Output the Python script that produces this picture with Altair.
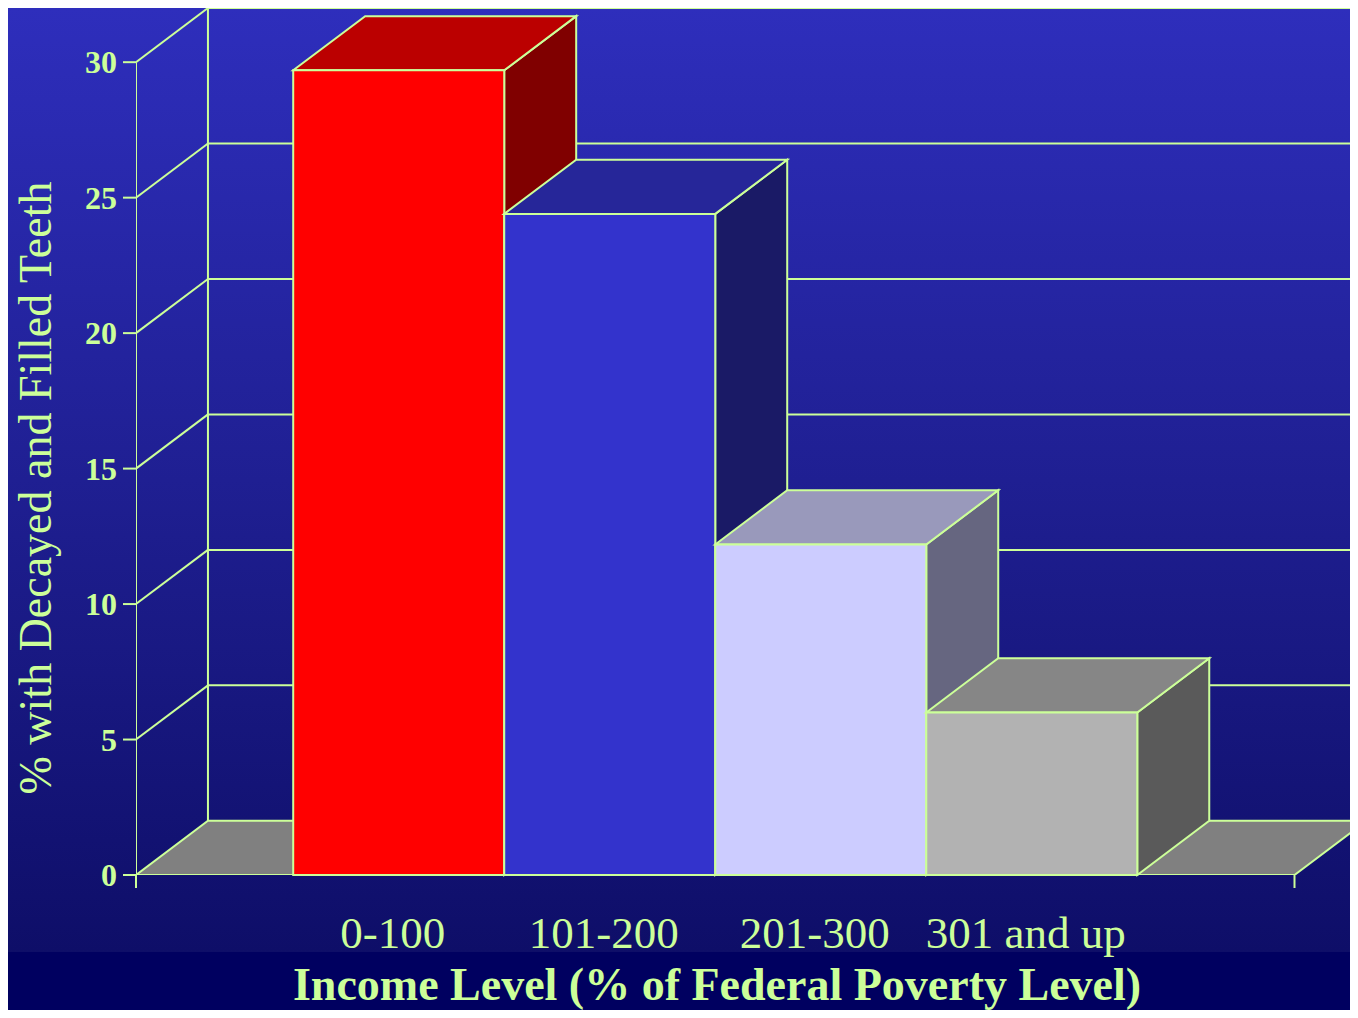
import altair as alt
import pandas as pd

# ---------------- data ----------------
categories = ["0-100", "101-200", "201-300", "301 and up"]
values = [29.7, 24.4, 12.2, 6.0]
y_ticks = [0, 5, 10, 15, 20, 25, 30]
y_title = "% with Decayed and Filled Teeth"
x_title = "Income Level (% of Federal Poverty Level)"

# ---------------- styles ----------------
front_colors = ["#ff0000", "#3333cc", "#ccccff", "#b2b2b2"]
top_colors = ["#bb0000", "#262699", "#9999bb", "#868686"]
side_colors = ["#800000", "#1a1a66", "#666680", "#5a5a5a"]
floor_color = "#808080"
LINE = "#ccff99"
TEXT = "#ccff99"
FONT = "Liberation Serif"
SW = 2

# 3-D depth offset in data units and side margins (in bar widths)
DX, DY = 0.341, 2.0
GAP = 0.745
X_DOMAIN = [-GAP, 5.008]
Y_DOMAIN = [0, 32]

W, H = 1214, 867
PAD_L, PAD_B = 128, 135

n = len(values)
x0, x1 = -GAP, n + GAP
xs = alt.Scale(domain=X_DOMAIN, nice=False, zero=False)
ys = alt.Scale(domain=Y_DOMAIN, nice=False, zero=False)
top_val = max(y_ticks)

# ---------------- background ----------------
bg = alt.Chart(pd.DataFrame({"a": [0]})).mark_rect(
    color=alt.Gradient(
        gradient="linear",
        stops=[
            alt.GradientStop(color="#2e2ebc", offset=0),
            alt.GradientStop(color="#1f1f92", offset=0.5),
            alt.GradientStop(color="#0e0e68", offset=1),
        ],
        x1=0, x2=0, y1=0, y2=1,
    )
).encode(x=alt.value(-PAD_L), x2=alt.value(W), y=alt.value(0), y2=alt.value(944))

# ---------------- wall lines ----------------
rows = []
for v in y_ticks[1:]:
    rows.append({"x": x0 + DX, "x2": X_DOMAIN[1], "y": v + DY, "y2": v + DY})  # back wall grid
    rows.append({"x": x0, "x2": x0 + DX, "y": v, "y2": v + DY})                # left wall diagonal
rows.append({"x": x0 + DX, "x2": x0 + DX, "y": DY, "y2": top_val + DY})          # back corner
rows.append({"x": x0, "x2": x0, "y": 0, "y2": top_val})                          # front axis
lines_df = pd.DataFrame(rows)

lines = alt.Chart(lines_df).mark_rule(color=LINE, strokeWidth=SW, clip=True).encode(
    x=alt.X("x:Q", scale=xs, axis=None),
    x2="x2:Q",
    y=alt.Y("y:Q", scale=ys, axis=None),
    y2="y2:Q",
)

# ---------------- y axis ticks, labels, title ----------------
yt_df = pd.DataFrame({"v": y_ticks, "lab": [str(t) for t in y_ticks]})
ytick = alt.Chart(yt_df).mark_rule(color=LINE, strokeWidth=SW).encode(
    x=alt.value(-13), x2=alt.value(0),
    y=alt.Y("v:Q", scale=ys, axis=None),
)
ylab = alt.Chart(yt_df).mark_text(
    font=FONT, fontSize=32, fontWeight="bold", color=TEXT,
    align="right", baseline="middle", dy=1
).encode(
    x=alt.value(-19),
    y=alt.Y("v:Q", scale=ys, axis=None),
    text="lab:N",
)
ytitle = alt.Chart(pd.DataFrame({"t": [y_title]})).mark_text(
    font=FONT, fontSize=46, color=TEXT, angle=270,
    align="center", baseline="middle"
).encode(x=alt.value(-99), y=alt.value(480), text="t:N")

# ---------------- floor ----------------
floor_df = pd.DataFrame({
    "x": [x0, x0 + DX, x1, x1 + DX],
    "lo": [0, 0, 0, DY],
    "hi": [0, DY, DY, DY],
})
floor = alt.Chart(floor_df).mark_area(
    fill=floor_color, stroke=LINE, strokeWidth=SW, clip=True, orient="vertical"
).encode(
    x=alt.X("x:Q", scale=xs, axis=None),
    y=alt.Y("hi:Q", scale=ys, axis=None),
    y2="lo:Q",
)

# ---------------- bars ----------------
bar_layers = []
for i, v in enumerate(values):
    side_df = pd.DataFrame({
        "x": [i + 1, i + 1 + DX],
        "lo": [0, DY],
        "hi": [v, v + DY],
    })
    top_df = pd.DataFrame({
        "x": [i, i + DX, i + 1, i + 1 + DX],
        "lo": [v, v, v, v + DY],
        "hi": [v, v + DY, v + DY, v + DY],
    })
    front_df = pd.DataFrame({"xl": [i], "xr": [i + 1], "v": [v], "z": [0]})

    side = alt.Chart(side_df).mark_area(
        fill=side_colors[i], stroke=LINE, strokeWidth=SW, orient="vertical"
    ).encode(
        x=alt.X("x:Q", scale=xs, axis=None),
        y=alt.Y("hi:Q", scale=ys, axis=None),
        y2="lo:Q",
    )
    top = alt.Chart(top_df).mark_area(
        fill=top_colors[i], stroke=LINE, strokeWidth=SW, orient="vertical"
    ).encode(
        x=alt.X("x:Q", scale=xs, axis=None),
        y=alt.Y("hi:Q", scale=ys, axis=None),
        y2="lo:Q",
    )
    front = alt.Chart(front_df).mark_rect(
        fill=front_colors[i], stroke=LINE, strokeWidth=SW
    ).encode(
        x=alt.X("xl:Q", scale=xs, axis=None),
        x2="xr:Q",
        y=alt.Y("v:Q", scale=ys, axis=None),
        y2="z:Q",
    )
    bar_layers += [side, top, front]

# ---------------- x ticks at the floor ends ----------------
xt = alt.Chart(pd.DataFrame({"x": [x0, x1]})).mark_rule(color=LINE, strokeWidth=SW).encode(
    x=alt.X("x:Q", scale=xs, axis=None),
    y=alt.value(H),
    y2=alt.value(H + 13),
)

# ---------------- category labels and title ----------------
lab_df = pd.DataFrame({"xc": [i + 0.5 for i in range(n)], "label": categories})
labels = alt.Chart(lab_df).mark_text(
    font=FONT, fontSize=45, color=TEXT, align="center", baseline="alphabetic", dx=-6
).encode(
    x=alt.X("xc:Q", scale=xs, axis=None),
    y=alt.value(940),
    text="label:N",
)

title = alt.Chart(pd.DataFrame({"t": [x_title]})).mark_text(
    font=FONT, fontSize=46, fontWeight="bold", color=TEXT,
    align="center", baseline="alphabetic"
).encode(
    x=alt.value(581),
    y=alt.value(992),
    text="t:N",
)

chart = alt.layer(
    bg, lines, floor, *bar_layers, xt, ytick, ylab, ytitle, labels, title
).properties(
    width=W,
    height=H,
    padding={"left": PAD_L, "top": 0, "right": 0, "bottom": PAD_B},
    autosize=alt.AutoSizeParams(type="none"),
    background="#000060",
).configure_view(stroke=None)

chart.save("out.html", embed_options={"renderer": "svg", "actions": False})
